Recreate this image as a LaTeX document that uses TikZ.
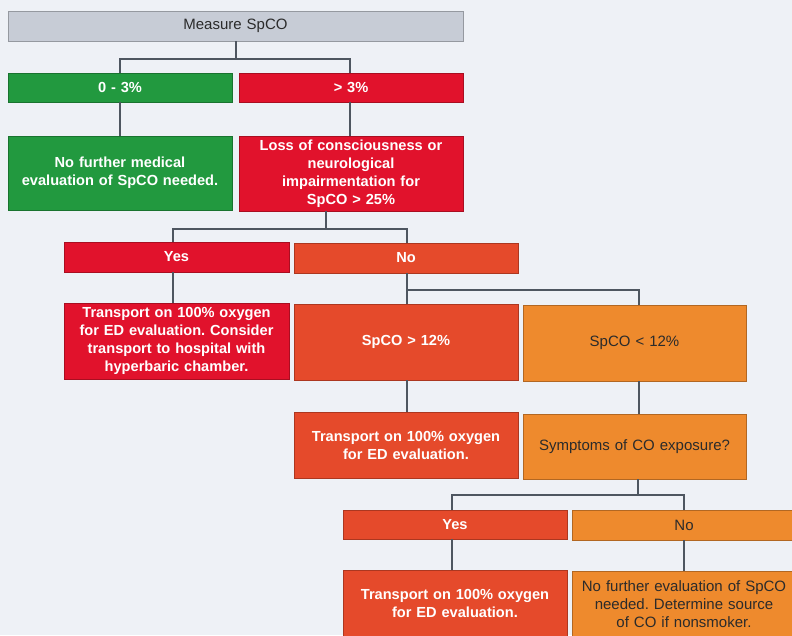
\documentclass[tikz,border=0pt]{standalone}
\usepackage{fontspec}
\setmainfont{Liberation Sans}
\frenchspacing
\definecolor{bgc}{HTML}{EEF1F6}
\definecolor{grayc}{HTML}{C7CCD6}
\definecolor{greenc}{HTML}{22993F}
\definecolor{redc}{HTML}{E1122C}
\definecolor{orredc}{HTML}{E54A2B}
\definecolor{orangec}{HTML}{EE8A2D}
\definecolor{linec}{HTML}{4E5660}
\definecolor{darktxt}{HTML}{2B2B2B}
\tikzset{
  box/.style={rectangle, draw=#1!75!black, fill=#1, line width=0.6pt, inner sep=2pt, align=center, text width=214pt},
  wtxt/.style={text=white, font=\fontsize{14.6}{18}\selectfont\bfseries},
  dtxt/.style={text=darktxt, font=\fontsize{15}{18}\selectfont},
  conn/.style={draw=linec, line width=1.2pt},
}
\begin{document}
\begin{tikzpicture}[x=1pt,y=-1pt]
\useasboundingbox (0,0) rectangle (792,635);
\clip (0,0) rectangle (792,635);
\fill[bgc] (0,0) rectangle (792,635);

\node[box=grayc, dtxt, minimum width=455pt, minimum height=30pt, text width=440pt] (m) at (235.5,26) {Measure SpCO};

\node[box=greenc, wtxt, minimum width=224pt, minimum height=29pt] (g1) at (120,87.5) {0 - 3\%};
\node[box=redc, wtxt, minimum width=224pt, minimum height=29pt] (r1) at (351,87.5) {> 3\%};

\node[box=greenc, wtxt, minimum width=224pt, minimum height=74pt] (g2) at (120,173) {No further medical\\evaluation of SpCO needed.};
\node[box=redc, wtxt, minimum width=224pt, minimum height=75pt] (r2) at (351,173.5) {Loss of consciousness or\\neurological\\impairmentation for\\SpCO > 25\%};

\node[box=redc, wtxt, minimum width=225pt, minimum height=30pt] (yes1) at (176.5,257) {Yes};
\node[box=orredc, wtxt, minimum width=224pt, minimum height=30pt] (no1) at (406,258) {No};

\node[box=redc, wtxt, minimum width=225pt, minimum height=76pt] (t1) at (176.5,341) {Transport on 100\% oxygen\\for ED evaluation. Consider\\transport to hospital with\\hyperbaric chamber.};
\node[box=orredc, wtxt, minimum width=224pt, minimum height=76pt] (s12) at (406,342) {SpCO > 12\%};
\node[box=orangec, dtxt, minimum width=223pt, minimum height=76pt] (sl12) at (634.5,343) {SpCO < 12\%};

\node[box=orredc, wtxt, minimum width=224pt, minimum height=66pt] (t2) at (406,445) {Transport on 100\% oxygen\\for ED evaluation.};
\node[box=orangec, dtxt, minimum width=223pt, minimum height=65pt] (sym) at (634.5,446.5) {Symptoms of CO exposure?};

\node[box=orredc, wtxt, minimum width=224pt, minimum height=29pt] (yes2) at (455,524.5) {Yes};
\node[box=orangec, dtxt, minimum width=224pt, minimum height=30pt] (no2) at (684,525) {No};

\node[box=orredc, wtxt, minimum width=224pt, minimum height=66pt] (t3) at (455,603) {Transport on 100\% oxygen\\for ED evaluation.};
\node[box=orangec, dtxt, minimum width=224pt, minimum height=66pt] (nf) at (684,604) {No further evaluation of SpCO\\needed. Determine source\\of CO if nonsmoker.};

% connectors
\coordinate (j0) at (236,59);
\draw[conn] (m.south -| j0) -- (j0) -| (g1.north);
\draw[conn] (j0) -| ([xshift=-1pt]r1.north);
\draw[conn] (g1) -- (g2);
\draw[conn] ([xshift=-1pt]r1.south) -- ([xshift=-1pt]r2.north);

\coordinate (j1) at (326,229);
\draw[conn] (r2.south -| j1) -- (j1) -| ([xshift=-3.5pt]yes1.north);
\draw[conn] (j1) -| ([xshift=1pt]no1.north);
\draw[conn] ([xshift=-3.5pt]yes1.south) -- ([xshift=-3.5pt]t1.north);

\coordinate (j2) at (407,290);
\draw[conn] (no1.south -| j2) -- (j2) -| ([xshift=4.5pt]sl12.north);
\draw[conn] (j2) -- (s12.north -| j2);
\draw[conn] (s12.south -| j2) -- (t2.north -| j2);
\draw[conn] ([xshift=4.5pt]sl12.south) -- ([xshift=4.5pt]sym.north);

\coordinate (j3) at (638,495);
\draw[conn] (sym.south -| j3) -- (j3) -| ([xshift=-3pt]yes2.north);
\draw[conn] (j3) -| (no2.north);
\draw[conn] ([xshift=-3pt]yes2.south) -- ([xshift=-3pt]t3.north);
\draw[conn] (no2) -- (nf);
\end{tikzpicture}
\end{document}
